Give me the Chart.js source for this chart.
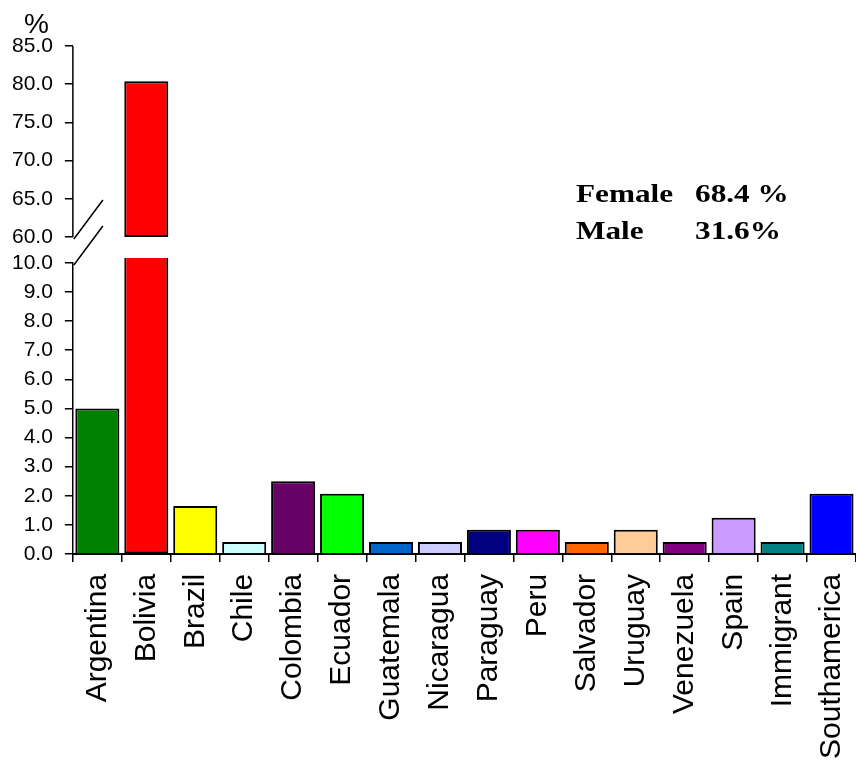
<!DOCTYPE html>
<html lang="en">
<head>
    <meta charset="UTF-8">
    <title>Immigrants by country of origin</title>
    <style>
        html, body { margin: 0; padding: 0; background: #fff; }
        #wrap { width: 856px; height: 765px; }
    </style>
</head>
<body>
    <div id="wrap">
        <canvas id="myChart" width="856" height="765"></canvas>
    </div>

    <script src="https://cdn.jsdelivr.net/npm/chart.js"></script>

    <script>
        // data
        const countries = ['Argentina', 'Bolivia', 'Brazil', 'Chile', 'Colombia', 'Ecuador', 'Guatemala', 'Nicaragua',
            'Paraguay', 'Peru', 'Salvador', 'Uruguay', 'Venezuela', 'Spain', 'Immigrant', 'Southamerica'];
        const shares = [5.0, 80.4, 1.65, 0.41, 2.5, 2.07, 0.41, 0.41, 0.83, 0.83, 0.41, 0.83, 0.41, 1.24, 0.41, 2.07];
        const barColors = ['#008000', '#FF0000', '#FFFF00', '#CCFFFF', '#660066', '#00FF00', '#0066CC', '#CCCCFF',
            '#000080', '#FF00FF', '#FF6600', '#FFCC99', '#800080', '#CC99FF', '#008080', '#0000FF'];
        const lowTicks = [0, 1, 2, 3, 4, 5, 6, 7, 8, 9, 10];
        const highTicks = [60, 65, 70, 75, 80, 85];
        const genderLabels = ['Female', 'Male'];
        const genderShares = ['68.4 %', '31.6%'];

        const breakLow = lowTicks[lowTicks.length - 1];
        const breakHigh = highTicks[0];
        const highGap = 3.4; // empty room under 60 on the upper axis
        const sans = '"Liberation Sans", Arial, sans-serif';

        // draws the upper axis line, the break marks and the free texts
        const breakPlugin = {
            id: 'axisBreak',
            afterDraw(chart) {
                const c = chart.ctx;
                const hi = chart.scales.yHigh;
                const lo = chart.scales.yLow;
                const left = chart.chartArea.left;
                const p60 = hi.getPixelForValue(breakHigh);
                const p85 = hi.getPixelForValue(highTicks[highTicks.length - 1]);
                const p10 = lo.getPixelForValue(breakLow);
                c.save();
                c.strokeStyle = '#000';
                c.lineWidth = 1.5;
                c.beginPath();
                c.moveTo(left, p85);
                c.lineTo(left, p60);
                c.moveTo(left + 1, p60 + 2);
                c.lineTo(left + 30, p60 - 37);
                c.moveTo(left + 1, p10 + 2);
                c.lineTo(left + 30, p10 - 37);
                c.stroke();

                c.fillStyle = '#000';
                c.font = '28px ' + sans;
                c.textBaseline = 'alphabetic';
                c.fillText('%', 24, 33);

                c.font = 'bold 25px "Liberation Serif", "Times New Roman", serif';
                genderLabels.forEach((lab, i) => {
                    const y = 202 + i * 37;
                    c.save();
                    c.translate(576, y);
                    c.scale(1.25, 1);
                    c.fillText(lab, 0, 0);
                    c.restore();
                    c.save();
                    c.translate(695, y);
                    c.scale(1.25, 1);
                    c.fillText(genderShares[i], 0, 0);
                    c.restore();
                });
                c.restore();
            }
        };

        const ctx = document.getElementById('myChart');

        new Chart(ctx, {
            type: 'bar',
            data: {
                labels: countries,
                datasets: [{
                    label: 'low',
                    data: shares.map(v => Math.min(v, breakLow + 0.17)),
                    yAxisID: 'yLow',
                    clip: false,
                    backgroundColor: barColors,
                    borderColor: '#000',
                    borderWidth: 2,
                    borderSkipped: c => (c.raw > breakLow ? 'top' : 'start'),
                    grouped: false,
                    barPercentage: 0.9,
                    categoryPercentage: 1.0
                }, {
                    label: 'high',
                    data: shares.map(v => (v > breakHigh ? [breakHigh, v] : null)),
                    yAxisID: 'yHigh',
                    backgroundColor: barColors,
                    borderColor: '#000',
                    borderWidth: 2,
                    borderSkipped: false,
                    grouped: false,
                    barPercentage: 0.9,
                    categoryPercentage: 1.0
                }]
            },
            options: {
                responsive: false,
                animation: false,
                layout: { padding: { left: 0, top: 46, right: 0, bottom: -6 } },
                plugins: {
                    legend: { display: false },
                    tooltip: { enabled: false }
                },
                scales: {
                    x: {
                        // rotated labels fit inside the canvas, no extra side room needed
                        afterFit: s => { s.paddingRight = 0; s.paddingLeft = 0; },
                        grid: { offset: true, drawOnChartArea: false, tickLength: 8, color: '#000', lineWidth: 1.5 },
                        border: { color: '#000', width: 2 },
                        ticks: {
                            minRotation: 90, maxRotation: 90, autoSkip: false, padding: 12,
                            color: '#000', font: { family: sans, size: 30 }
                        }
                    },
                    yLow: {
                        position: 'left',
                        stack: 'y',
                        stackWeight: 291,
                        min: 0,
                        max: breakLow,
                        afterBuildTicks: s => { s.ticks = lowTicks.map(v => ({ value: v })); },
                        grid: { drawOnChartArea: false, tickLength: 8, color: '#000', lineWidth: 1.5 },
                        border: { color: '#000', width: 1.5 },
                        ticks: {
                            autoSkip: false, padding: 12, color: '#000', font: { family: sans, size: 21 },
                            callback: v => v.toFixed(1)
                        }
                    },
                    yHigh: {
                        position: 'left',
                        stack: 'y',
                        stackWeight: 217,
                        min: breakHigh - highGap,
                        max: highTicks[highTicks.length - 1],
                        afterBuildTicks: s => { s.ticks = highTicks.map(v => ({ value: v })); },
                        grid: { drawOnChartArea: false, tickLength: 8, color: '#000', lineWidth: 1.5 },
                        border: { display: false },
                        ticks: {
                            autoSkip: false, padding: 12, color: '#000', font: { family: sans, size: 21 },
                            callback: v => v.toFixed(1)
                        }
                    }
                }
            },
            plugins: [breakPlugin]
        });
    </script>
</body>
</html>
